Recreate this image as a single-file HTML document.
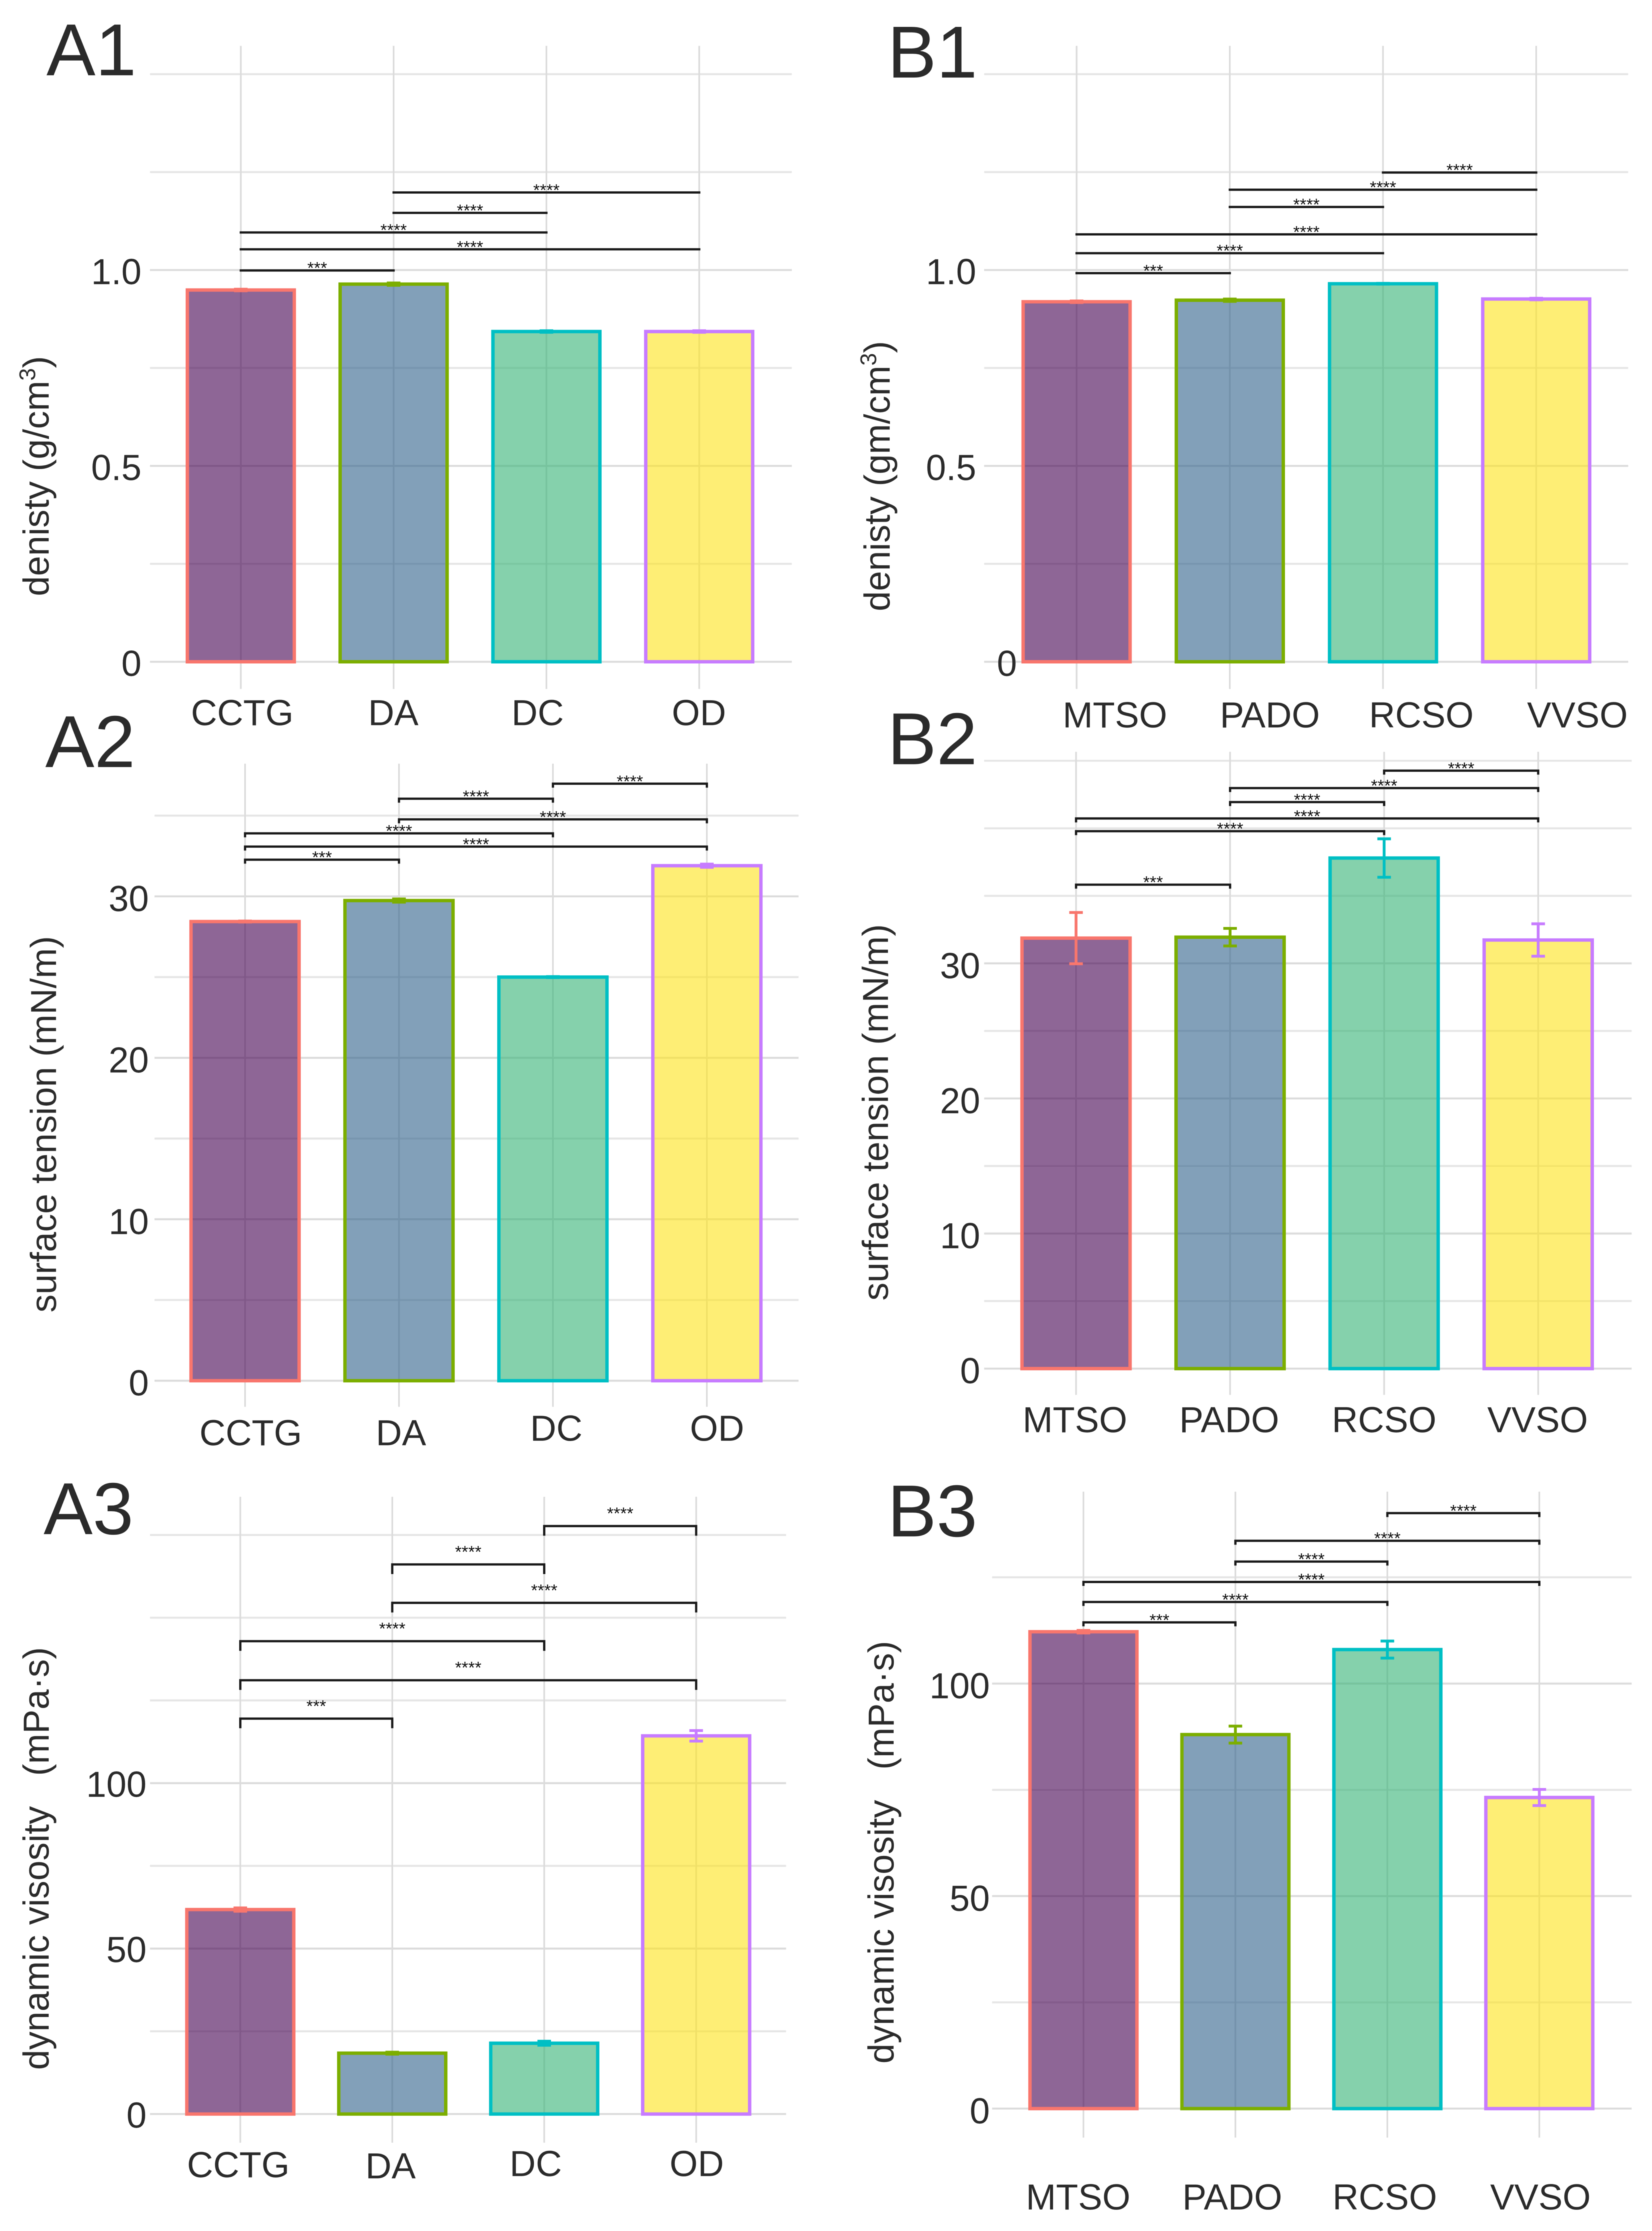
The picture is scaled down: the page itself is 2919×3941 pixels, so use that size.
<!DOCTYPE html>
<html lang="en">
<head>
<meta charset="utf-8">
<title>Density, surface tension and dynamic viscosity bar charts</title>
<style>
html,body{margin:0;padding:0;background:#fff;}
svg{display:block;font-family:"Liberation Sans",sans-serif;filter:blur(0.7px);}
</style>
</head>
<body>
<svg id="figure" xmlns="http://www.w3.org/2000/svg" width="2919" height="3941" viewBox="0 0 2919 3941">
<rect width="2919" height="3941" fill="#ffffff"/>
</svg>
<script>
// ---- Data: panel A1
const a1Categories = ['CCTG', 'DA', 'DC', 'OD'];
const a1Values = [0.949, 0.964, 0.843, 0.843];
const a1Errors = [0.002, 0.003, 0.002, 0.002];
const a1Ticks = [0, 0.5, 1.0];
const a1TickLabels = ['0', '0.5', '1.0'];
const a1MinorTicks = [0.25, 0.75, 1.25, 1.5];
const a1BracketFrom = [0, 0, 0, 1, 1];
const a1BracketTo = [1, 3, 2, 2, 3];
const a1BracketLevels = [0.999, 1.053, 1.096, 1.146, 1.198];
const a1BracketStars = ['***', '****', '****', '****', '****'];

// ---- Data: panel A2
const a2Categories = ['CCTG', 'DA', 'DC', 'OD'];
const a2Values = [28.44, 29.74, 25.0, 31.9];
const a2Errors = [0.03, 0.1, 0.03, 0.1];
const a2Ticks = [0, 10, 20, 30];
const a2TickLabels = ['0', '10', '20', '30'];
const a2MinorTicks = [5, 15, 25, 35];
const a2BracketFrom = [0, 0, 0, 1, 1, 2];
const a2BracketTo = [1, 3, 2, 3, 2, 3];
const a2BracketLevels = [32.27, 33.08, 33.9, 34.77, 36.05, 36.98];
const a2BracketStars = ['***', '****', '****', '****', '****', '****'];

// ---- Data: panel A3
const a3Categories = ['CCTG', 'DA', 'DC', 'OD'];
const a3Values = [61.8, 18.4, 21.4, 114.3];
const a3Errors = [0.5, 0.3, 0.6, 1.6];
const a3Ticks = [0, 50, 100];
const a3TickLabels = ['0', '50', '100'];
const a3MinorTicks = [25, 75, 125, 150, 175];
const a3BracketFrom = [0, 0, 0, 1, 1, 2];
const a3BracketTo = [1, 3, 2, 3, 2, 3];
const a3BracketLevels = [119.5, 131.1, 142.9, 154.5, 166.1, 177.7];
const a3BracketStars = ['***', '****', '****', '****', '****', '****'];

// ---- Data: panel B1
const b1Categories = ['MTSO', 'PADO', 'RCSO', 'VVSO'];
const b1Values = [0.919, 0.923, 0.965, 0.926];
const b1Errors = [0.002, 0.003, 0.001, 0.002];
const b1Ticks = [0, 0.5, 1.0];
const b1TickLabels = ['0', '0.5', '1.0'];
const b1MinorTicks = [0.25, 0.75, 1.25, 1.5];
const b1BracketFrom = [0, 0, 0, 1, 1, 2];
const b1BracketTo = [1, 2, 3, 2, 3, 3];
const b1BracketLevels = [0.992, 1.043, 1.091, 1.161, 1.205, 1.249];
const b1BracketStars = ['***', '****', '****', '****', '****', '****'];

// ---- Data: panel B2
const b2Categories = ['MTSO', 'PADO', 'RCSO', 'VVSO'];
const b2Values = [31.87, 31.94, 37.8, 31.73];
const b2Errors = [1.9, 0.65, 1.42, 1.2];
const b2Ticks = [0, 10, 20, 30];
const b2TickLabels = ['0', '10', '20', '30'];
const b2MinorTicks = [5, 15, 25, 35, 40, 45];
const b2BracketFrom = [0, 0, 0, 1, 1, 2];
const b2BracketTo = [1, 2, 3, 2, 3, 3];
const b2BracketLevels = [35.83, 39.79, 40.73, 41.94, 42.98, 44.27];
const b2BracketStars = ['***', '****', '****', '****', '****', '****'];

// ---- Data: panel B3
const b3Categories = ['MTSO', 'PADO', 'RCSO', 'VVSO'];
const b3Values = [112.2, 88, 108, 73.2];
const b3Errors = [0.3, 2, 2, 1.9];
const b3Ticks = [0, 50, 100];
const b3TickLabels = ['0', '50', '100'];
const b3MinorTicks = [25, 75, 125];
const b3BracketFrom = [0, 0, 0, 1, 1, 2];
const b3BracketTo = [1, 2, 3, 2, 3, 3];
const b3BracketLevels = [114.4, 119.2, 123.9, 128.7, 133.6, 140.1];
const b3BracketStars = ['***', '****', '****', '****', '****', '****'];

// ---- Styles shared by every panel
const barFills = ['rgba(67,0,80,0.6)', 'rgba(47,97,138,0.6)', 'rgba(52,178,117,0.6)', 'rgba(253,226,25,0.6)'];
const barStrokes = ['#F8766D', '#7CAE00', '#00BFC4', '#C77CFF'];
const INK = '#2b2b2b';

// ---- Panel layout (pixel geometry lives here, values live above)
const panels = [
  { id: 'a1', letter: 'A1', letterX: 82, letterY: 133,
    categories: a1Categories, values: a1Values, errors: a1Errors,
    ticks: a1Ticks, tickLabels: a1TickLabels, minor: a1MinorTicks,
    from: a1BracketFrom, to: a1BracketTo, levels: a1BracketLevels, stars: a1BracketStars,
    x0: 425.5, step: 270, y0: 1169, pxPerUnit: 692, barW: 189,
    gridL: 265, gridR: 1399, vTop: 81, vBot: 1217, tickX: 250, tickDy: 25,
    labelDx: [2.5, -0.5, -15.5, -0.5], labelY: [1281, 1281, 1281, 1281],
    title: 'denisty (g/cm', sup: '3', titleEnd: ')', titleX: 86, titleY: 841,
    tip: 2, starDy: 6 },
  { id: 'a2', letter: 'A2', letterX: 80, letterY: 1355,
    categories: a2Categories, values: a2Values, errors: a2Errors,
    ticks: a2Ticks, tickLabels: a2TickLabels, minor: a2MinorTicks,
    from: a2BracketFrom, to: a2BracketTo, levels: a2BracketLevels, stars: a2BracketStars,
    x0: 433, step: 272, y0: 2439, pxPerUnit: 28.52, barW: 191,
    gridL: 273, gridR: 1411, vTop: 1349, vBot: 2485, tickX: 263, tickDy: 26,
    labelDx: [10, 3.5, 6, 18], labelY: [2553, 2553, 2545, 2545],
    title: 'surface tension (mN/m)', titleX: 99, titleY: 1986,
    tip: 7, starDy: 6 },
  { id: 'a3', letter: 'A3', letterX: 77, letterY: 2710,
    categories: a3Categories, values: a3Values, errors: a3Errors,
    ticks: a3Ticks, tickLabels: a3TickLabels, minor: a3MinorTicks,
    from: a3BracketFrom, to: a3BracketTo, levels: a3BracketLevels, stars: a3BracketStars,
    x0: 424.6, step: 268.5, y0: 3734.4, pxPerUnit: 5.845, barW: 189,
    gridL: 265, gridR: 1389, vTop: 2644, vBot: 3785, tickX: 259, tickDy: 24,
    labelDx: [-3.6, -3, -15, 1], labelY: [3846, 3848, 3844, 3844],
    title: 'dynamic visosity\u00A0\u00A0\u00A0(mPa\u00B7s)', titleX: 86, titleY: 3283,
    tip: 17, starDy: -12 },
  { id: 'b1', letter: 'B1', letterX: 1568, letterY: 137,
    categories: b1Categories, values: b1Values, errors: b1Errors,
    ticks: b1Ticks, tickLabels: b1TickLabels, minor: b1MinorTicks,
    from: b1BracketFrom, to: b1BracketTo, levels: b1BracketLevels, stars: b1BracketStars,
    x0: 1902.3, step: 270.7, y0: 1169, pxPerUnit: 692, barW: 189,
    gridL: 1739, gridR: 2877, vTop: 81, vBot: 1217, tickX: 1725, tickDy: 25,
    zeroTickX: 1797,
    labelDx: [67.7, 70.8, 67.8, 72.8], labelY: [1285, 1285, 1285, 1285],
    title: 'denisty (gm/cm', sup: '3', titleEnd: ')', titleX: 1572, titleY: 841,
    tip: 2, starDy: 6 },
  { id: 'b2', letter: 'B2', letterX: 1568, letterY: 1350,
    categories: b2Categories, values: b2Values, errors: b2Errors,
    ticks: b2Ticks, tickLabels: b2TickLabels, minor: b2MinorTicks,
    from: b2BracketFrom, to: b2BracketTo, levels: b2BracketLevels, stars: b2BracketStars,
    x0: 1901.3, step: 272.2, y0: 2417.6, pxPerUnit: 23.86, barW: 191,
    gridL: 1739, gridR: 2883, vTop: 1328, vBot: 2464, tickX: 1732, tickDy: 26,
    labelDx: [-2, -1.5, 0, -1], labelY: [2530, 2530, 2530, 2530],
    title: 'surface tension (mN/m)', titleX: 1569, titleY: 1965,
    tip: 7, starDy: 6 },
  { id: 'b3', letter: 'B3', letterX: 1568, letterY: 2714,
    categories: b3Categories, values: b3Values, errors: b3Errors,
    ticks: b3Ticks, tickLabels: b3TickLabels, minor: b3MinorTicks,
    from: b3BracketFrom, to: b3BracketTo, levels: b3BracketLevels, stars: b3BracketStars,
    x0: 1914.4, step: 268.5, y0: 3724.8, pxPerUnit: 7.508, barW: 189,
    gridL: 1753, gridR: 2883, vTop: 2635, vBot: 3776, tickX: 1749, tickDy: 26,
    labelDx: [-9.4, -5.5, -4.6, 2], labelY: [3903, 3903, 3903, 3903],
    title: 'dynamic visosity\u00A0\u00A0\u00A0(mPa\u00B7s)', titleX: 1579, titleY: 3272,
    tip: 7, starDy: 6 }
];

const SVG_NS = 'http://www.w3.org/2000/svg';
const figure = document.getElementById('figure');

function make(tag, parent, attrs) {
  const el = document.createElementNS(SVG_NS, tag);
  for (const k in attrs) el.setAttribute(k, attrs[k]);
  parent.appendChild(el);
  return el;
}

function drawPanel(p) {
  const xScale = i => p.x0 + i * p.step;
  const yScale = v => p.y0 - v * p.pxPerUnit;

  const g = make('g', figure, {});
  
  

  // minor gridlines
  p.minor.forEach(v => {
    const line = make('line', g, { x1: p.gridL, x2: p.gridR, y1: yScale(v), y2: yScale(v), stroke: '#e6e6e6', 'stroke-width': 3.5 });
    
    
  });
  // major gridlines and y tick labels
  p.ticks.forEach((v, i) => {
    const line = make('line', g, { x1: p.gridL, x2: p.gridR, y1: yScale(v), y2: yScale(v), stroke: '#dcdcdc', 'stroke-width': 3.5 });
    
    
    const tx = (v === 0 && p.zeroTickX) ? p.zeroTickX : p.tickX;
    const label = make('text', g, { x: tx, y: yScale(v) + p.tickDy, 'text-anchor': 'end', 'font-size': 64, fill: INK });
    
    
    label.textContent = p.tickLabels[i];
  });
  // vertical gridlines
  p.categories.forEach((c, i) => {
    const line = make('line', g, { x1: xScale(i), x2: xScale(i), y1: p.vTop, y2: p.vBot, stroke: '#dcdcdc', 'stroke-width': 3 });
    
    
  });
  // bars, error bars, category labels
  p.categories.forEach((c, i) => {
    const top = yScale(p.values[i]);
    const bar = make('rect', g, { x: xScale(i) - p.barW / 2, y: top, width: p.barW, height: p.y0 - top,
      fill: barFills[i], stroke: barStrokes[i], 'stroke-width': 6 });
    
    

    const hi = yScale(p.values[i] + p.errors[i]);
    const lo = yScale(p.values[i] - p.errors[i]);
    const err = make('path', g, {
      d: 'M' + (xScale(i) - 12) + ' ' + hi + 'H' + (xScale(i) + 12) +
         'M' + xScale(i) + ' ' + hi + 'V' + lo +
         'M' + (xScale(i) - 12) + ' ' + lo + 'H' + (xScale(i) + 12),
      fill: 'none', stroke: barStrokes[i], 'stroke-width': 5 });
    
    

    const label = make('text', g, { x: xScale(i) + p.labelDx[i], y: p.labelY[i], 'text-anchor': 'middle', 'font-size': 64, fill: INK });
    
    
    label.textContent = c;
  });
  // significance brackets
  p.levels.forEach((lvl, i) => {
    const xa = xScale(p.from[i]);
    const xb = xScale(p.to[i]);
    const y = yScale(lvl);
    const br = make('path', g, {
      d: 'M' + xa + ' ' + (y + p.tip) + 'V' + y + 'H' + xb + 'V' + (y + p.tip),
      fill: 'none', stroke: '#1a1a1a', 'stroke-width': 4 });
    
    
    const star = make('text', g, { x: (xa + xb) / 2, y: y + p.starDy, 'text-anchor': 'middle', 'font-size': 30, fill: '#111111' });
    
    
    star.textContent = p.stars[i];
  });
  // y axis title
  const title = make('text', g, {
    transform: 'translate(' + p.titleX + ' ' + p.titleY + ') rotate(-90)',
    'text-anchor': 'middle', 'font-size': 64, fill: INK });
  
  
  title.appendChild(document.createTextNode(p.title));
  if (p.sup) {
    const s = make('tspan', title, { dy: -24, 'font-size': 40 });
    s.textContent = p.sup;
    const e = make('tspan', title, { dy: 24 });
    e.textContent = p.titleEnd;
  }
  // panel letter
  const letter = make('text', g, { x: p.letterX, y: p.letterY, 'font-size': 130, fill: INK });
  
  
  letter.textContent = p.letter;
}

panels.forEach(drawPanel);
</script>
</body>
</html>
